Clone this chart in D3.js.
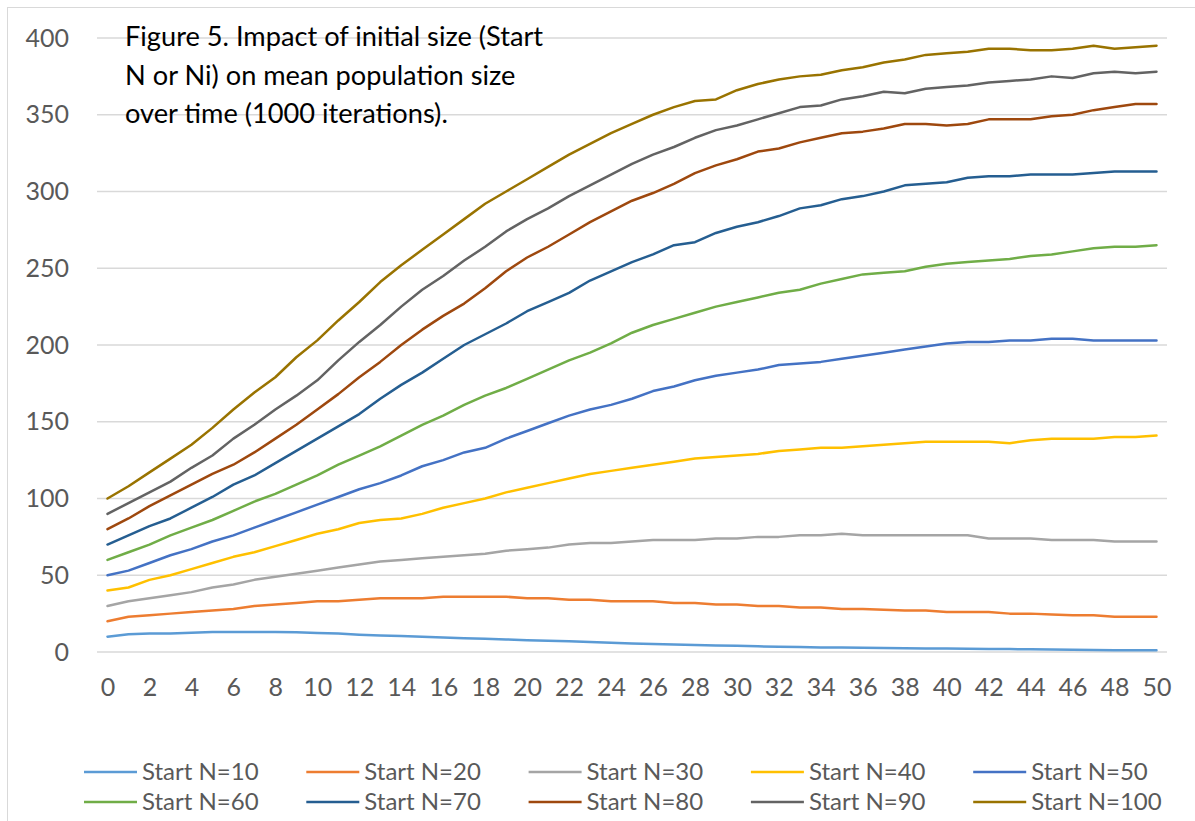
<!DOCTYPE html>
<html>
<head>
<meta charset="utf-8">
<script src="https://cdn.jsdelivr.net/npm/d3@7"></script>
<style>
  html, body { margin: 0; padding: 0; background: #fff; }
  svg { display: block; font-family: Lato, "Liberation Sans", sans-serif; }
</style>
</head>
<body>
<div id="chart"></div>
<script>
  // time steps (x categories)
  var steps = [0,1,2,3,4,5,6,7,8,9,10,11,12,13,14,15,16,17,18,19,20,21,22,23,24,25,
    26,27,28,29,30,31,32,33,34,35,36,37,38,39,40,41,42,43,44,45,46,47,48,49,50];
  var xTicks = [0,2,4,6,8,10,12,14,16,18,20,22,24,26,28,30,32,34,36,38,40,42,44,46,48,50];
  var yTicks = [0,50,100,150,200,250,300,350,400];

  var seriesNames = ["Start N=10","Start N=20","Start N=30","Start N=40","Start N=50",
    "Start N=60","Start N=70","Start N=80","Start N=90","Start N=100"];
  var seriesColors = ["#5b9bd5","#ed7d31","#a5a5a5","#ffc000","#4472c4",
    "#70ad47","#255e91","#9e480e","#636363","#997300"];

  var n10 = [10,11.5,12,12,12.5,13,13,13,13,12.8,12.4,12,11.3,10.8,10.4,10,9.5,9,8.6,8.2,
    7.6,7.3,7,6.5,6,5.6,5.2,4.9,4.6,4.2,4,3.7,3.5,3.2,3,2.9,2.8,2.6,2.4,2.3,
    2.2,2.1,2,1.9,1.8,1.7,1.5,1.3,1.2,1.2,1.1];
  var n20 = [20,23,24,25,26,27,28,30,31,32,33,33,34,35,35,35,36,36,36,36,
    35,35,34,34,33,33,33,32,32,31,31,30,30,29,29,28,28,27.5,27,27,
    26,26,26,25,25,24.5,24,24,23,23,23];
  var n30 = [30,33,35,37,39,42,44,47,49,51,53,55,57,59,60,61,62,63,64,66,
    67,68,70,71,71,72,73,73,73,74,74,75,75,76,76,77,76,76,76,76,
    76,76,74,74,74,73,73,73,72,72,72];
  var n40 = [40,42,47,50,54,58,62,65,69,73,77,80,84,86,87,90,94,97,100,104,
    107,110,113,116,118,120,122,124,126,127,128,129,131,132,133,133,134,135,136,137,
    137,137,137,136,138,139,139,139,140,140,141];
  var n50 = [50,53,58,63,67,72,76,81,86,91,96,101,106,110,115,121,125,130,133,139,
    144,149,154,158,161,165,170,173,177,180,182,184,187,188,189,191,193,195,197,199,
    201,202,202,203,203,204,204,203,203,203,203];
  var n60 = [60,65,70,76,81,86,92,98,103,109,115,122,128,134,141,148,154,161,167,172,
    178,184,190,195,201,208,213,217,221,225,228,231,234,236,240,243,246,247,248,251,
    253,254,255,256,258,259,261,263,264,264,265];
  var n70 = [70,76,82,87,94,101,109,115,123,131,139,147,155,165,174,182,191,200,207,214,
    222,228,234,242,248,254,259,265,267,273,277,280,284,289,291,295,297,300,304,305,
    306,309,310,310,311,311,311,312,313,313,313];
  var n80 = [80,87,95,102,109,116,122,130,139,148,158,168,179,189,200,210,219,227,237,248,
    257,264,272,280,287,294,299,305,312,317,321,326,328,332,335,338,339,341,344,344,
    343,344,347,347,347,349,350,353,355,357,357];
  var n90 = [90,97,104,111,120,128,139,148,158,167,177,190,202,213,225,236,245,255,264,274,
    282,289,297,304,311,318,324,329,335,340,343,347,351,355,356,360,362,365,364,367,
    368,369,371,372,373,375,374,377,378,377,378];
  var n100 = [100,108,117,126,135,146,158,169,179,192,203,216,228,241,252,262,272,282,292,300,
    308,316,324,331,338,344,350,355,359,360,366,370,373,375,376,379,381,384,386,389,
    390,391,393,393,392,392,393,395,393,394,395];

  var seriesValues = [n10, n20, n30, n40, n50, n60, n70, n80, n90, n100];

  var titleLines = ["Figure 5. Impact of initial size (Start",
    "N or Ni) on mean population size",
    "over time (1000 iterations)."];

  var W = 1195, H = 821;
  var svg = d3.select("#chart").append("svg")
      .attr("width", W)
      .attr("height", H);

  // chart area border (only left/top edges fall inside the picture)
  svg.append("rect")
      .attr("x", 7.5).attr("y", 7.5)
      .attr("width", 1250).attr("height", 900)
      .attr("fill", "#fff")
      .attr("stroke", "#d9d9d9")
      .attr("stroke-width", 1);

  var x = d3.scalePoint()
      .domain(steps)
      .range([97, 1167])
      .padding(0.5);

  var y = d3.scaleLinear()
      .domain([0, 400])
      .range([652, 38]);

  // gridlines
  svg.append("g").selectAll("line").data(yTicks)
    .enter().append("line")
      .attr("x1", 97).attr("x2", 1167)
      .attr("y1", function(d) { return y(d); })
      .attr("y2", function(d) { return y(d); })
      .attr("stroke", "#d9d9d9")
      .attr("stroke-width", 1.5);

  // y axis labels
  var yAxis = svg.append("g")
      .attr("transform", "translate(97,0)")
      .call(d3.axisLeft(y).tickValues(yTicks).tickSize(0).tickPadding(28));
  yAxis.select(".domain").remove();
  yAxis.selectAll("text")
      .attr("fill", "#595959")
      .style("font-size", "25px")
      .style("font-family", "Lato, sans-serif");

  // x axis labels
  var xAxis = svg.append("g")
      .attr("transform", "translate(0,652)")
      .call(d3.axisBottom(x).tickValues(xTicks).tickSize(0).tickPadding(26));
  xAxis.select(".domain").remove();
  xAxis.selectAll("text")
      .attr("fill", "#595959")
      .style("font-size", "25px")
      .style("font-family", "Lato, sans-serif");

  // series lines
  var line = d3.line()
      .x(function(d, i) { return x(steps[i]); })
      .y(function(d) { return y(d); });

  svg.append("g").selectAll("path").data(seriesValues)
    .enter().append("path")
      .attr("d", line)
      .attr("fill", "none")
      .attr("stroke", function(d, i) { return seriesColors[i]; })
      .attr("stroke-width", 2.5)
      .attr("stroke-linejoin", "round")
      .attr("stroke-linecap", "round");

  // title annotation
  svg.append("text")
      .attr("x", 125)
      .attr("y", 46)
      .attr("fill", "#000")
      .style("font-size", "27.2px")
      .selectAll("tspan").data(titleLines)
    .enter().append("tspan")
      .attr("x", 125)
      .attr("dy", function(d, i) { return i === 0 ? 0 : 38.5; })
      .text(function(d) { return d; });

  // legend: 2 rows of 5
  var legend = svg.append("g").selectAll("g").data(seriesNames)
    .enter().append("g")
      .attr("transform", function(d, i) {
        return "translate(" + (84 + (i % 5) * 222.3) + "," + (772 + Math.floor(i / 5) * 30) + ")";
      });
  legend.append("line")
      .attr("x1", 0).attr("x2", 53)
      .attr("y1", 0).attr("y2", 0)
      .attr("stroke", function(d, i) { return seriesColors[i]; })
      .attr("stroke-width", 2.5);
  legend.append("text")
      .attr("x", 58)
      .attr("y", 0)
      .attr("dy", "0.35em")
      .attr("fill", "#595959")
      .style("font-size", "24px")
      .text(function(d) { return d; });
</script>
</body>
</html>
